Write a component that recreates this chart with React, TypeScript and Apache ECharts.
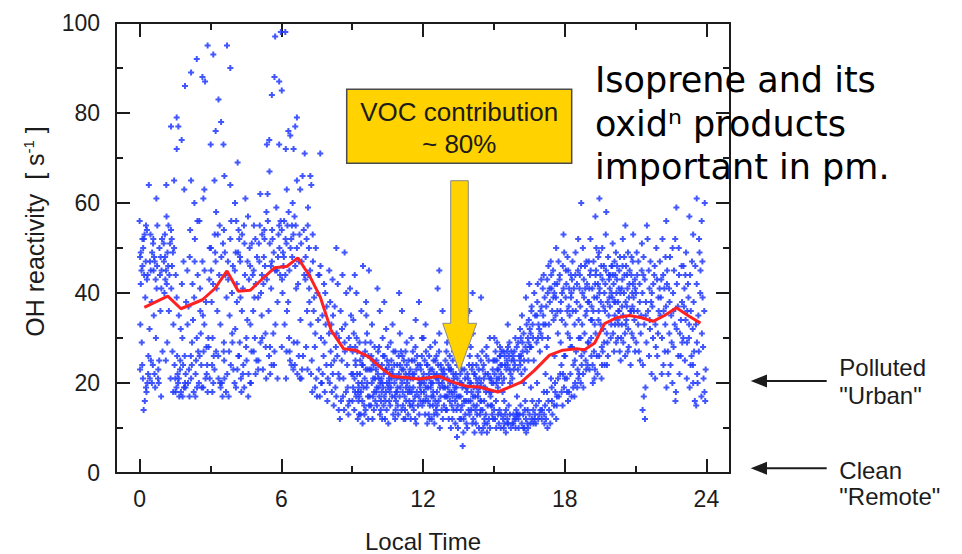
import React, { useEffect, useRef } from "react";
import * as echarts from "echarts";

// ---- axis ticks ----
const xMajor = [0, 6, 12, 18, 24];
const xMinor = [3, 9, 15, 21];

// ---- hourly mean (red line) ----
const meanT = [0.2, 1.19, 1.75, 2.66, 3.19, 3.7, 4.18, 4.68, 5.17, 5.71, 6.23, 6.7, 7.22, 7.65, 8.11, 8.64, 9.13, 9.7, 10.26, 10.69, 11.25, 11.82, 12.69, 13.26, 13.82, 14.39, 15.17, 15.66, 16.16, 16.72, 17.36, 17.92, 18.49, 18.84, 19.27, 19.69, 20.19, 20.75, 21.25, 21.74, 22.23, 22.73, 23.22, 23.75];
const meanV = [36.8, 39.3, 36.5, 38.5, 41, 44.9, 40.4, 40.6, 43, 45.6, 45.9, 47.8, 43.6, 39.1, 31.7, 27.6, 27.3, 25.8, 23.2, 21.5, 21.2, 20.9, 21.5, 20.2, 19.3, 19.1, 18.0, 19.1, 20.2, 22.8, 26.2, 27.3, 27.6, 27.4, 28.9, 33.2, 34.5, 35, 34.5, 33.7, 35, 36.7, 35, 33.3];

// ---- individual measurements [local time, OH reactivity] ----
const h00 = [[0.02,23],[0.05,49],[0.0,56],[0.61,48],[0.34,44],[0.92,41],[0.18,52],[0.75,55],[0.43,21],[0.03,33],[0.56,24],[0.29,18],[0.84,50],[0.12,46],[0.68,43],[0.39,64],[0.97,27],[0.22,16],[0.51,38],[0.81,20],[0.09,29],[0.46,53],[0.71,61],[0.26,47],[0.88,36],[0.14,21],[0.59,45],[0.37,26],[0.95,52],[0.05,42],[0.66,19],[0.31,54],[0.79,23],[0.17,14],[0.53,49],[0.42,32],[0.86,44],[0.24,39],[0.63,22],[0.02,48],[0.48,25],[0.74,46],[0.11,24],[0.57,51],[0.33,20],[0.91,17],[0.19,44],[0.69,30],[0.44,47],[0.83,25],[0.27,55],[0.6,35]];
const h01 = [[1.13,64],[1.46,65],[1.33,77],[1.57,79],[1.64,77],[1.78,74],[1.57,72],[1.89,63],[1.07,53],[1.61,22],[1.34,41],[1.92,20],[1.18,49],[1.75,18],[1.43,33],[1.03,47],[1.56,19],[1.29,51],[1.84,24],[1.12,45],[1.68,17],[1.39,27],[1.97,38],[1.22,55],[1.51,21],[1.81,30],[1.09,43],[1.46,50],[1.71,23],[1.26,44],[1.88,19],[1.14,57],[1.59,26],[1.37,46],[1.95,22],[1.05,40],[1.66,35],[1.31,21],[1.79,42],[1.17,29],[1.53,44],[1.42,18],[1.86,47],[1.24,36],[1.63,20],[1.02,51],[1.48,24],[1.74,32],[1.11,25],[1.57,39],[1.33,54],[1.91,26]];
const h02 = [[1.92,86],[2.18,89],[2.42,92],[2.66,88],[2.77,87],[2.88,95],[2.18,65],[2.32,60],[2.7,61],[2.74,63],[2.07,37],[2.61,24],[2.34,52],[2.92,28],[2.18,21],[2.75,45],[2.43,19],[2.03,33],[2.56,41],[2.29,18],[2.84,22],[2.12,48],[2.68,35],[2.39,25],[2.97,50],[2.22,29],[2.51,20],[2.81,38],[2.09,23],[2.46,44],[2.71,27],[2.26,34],[2.88,18],[2.14,54],[2.59,31],[2.37,22],[2.95,43],[2.05,20],[2.66,47],[2.31,39],[2.79,21],[2.17,26],[2.53,56],[2.42,30],[2.86,24],[2.24,42],[2.63,19],[2.02,45],[2.48,27],[2.74,33],[2.11,17],[2.57,36],[2.33,47],[2.91,30]];
const h03 = [[3.12,93],[3.7,95],[3.84,90],[3.34,83],[3.45,78],[3.22,76],[3.01,73],[3.55,73],[3.17,65],[3.59,66],[3.84,64],[3.07,24],[3.61,49],[3.34,21],[3.92,31],[3.18,53],[3.75,43],[3.43,19],[3.03,45],[3.56,27],[3.29,36],[3.84,52],[3.12,20],[3.68,39],[3.39,55],[3.97,23],[3.22,47],[3.51,17],[3.81,35],[3.09,30],[3.46,48],[3.71,22],[3.26,41],[3.88,56],[3.14,26],[3.59,21],[3.37,44],[3.95,46],[3.05,38],[3.66,18],[3.31,53],[3.79,27],[3.17,23],[3.53,51],[3.42,33],[3.86,24],[3.24,58],[3.63,44],[3.02,50],[3.48,20],[3.74,47],[3.11,42],[3.57,29],[3.33,26],[3.91,40]];
const h04 = [[4.04,60],[4.15,69],[4.07,49],[4.61,22],[4.34,53],[4.92,42],[4.18,26],[4.75,51],[4.43,19],[4.03,45],[4.56,34],[4.29,21],[4.84,55],[4.12,38],[4.68,46],[4.39,24],[4.97,48],[4.22,52],[4.51,28],[4.81,36],[4.09,56],[4.46,44],[4.71,20],[4.26,47],[4.88,30],[4.14,23],[4.59,57],[4.37,41],[4.95,25],[4.05,32],[4.66,50],[4.31,18],[4.79,44],[4.17,49],[4.53,25],[4.42,55],[4.86,39],[4.24,29],[4.63,43],[4.02,20],[4.48,61],[4.74,27],[4.11,42],[4.57,47],[4.33,36],[4.91,22],[4.19,54],[4.69,33],[4.44,51],[4.83,45],[4.27,39],[4.6,17]];
const h05 = [[5.39,73],[5.49,74],[5.5,67],[5.6,84],[5.71,88],[5.74,97],[5.91,87],[5.91,73],[5.98,98],[5.07,47],[5.61,54],[5.34,28],[5.92,50],[5.18,44],[5.75,33],[5.43,56],[5.03,25],[5.56,46],[5.29,52],[5.84,38],[5.12,29],[5.68,49],[5.39,43],[5.97,56],[5.22,23],[5.51,51],[5.81,45],[5.09,55],[5.46,36],[5.71,27],[5.26,48],[5.88,53],[5.14,40],[5.59,24],[5.37,58],[5.95,44],[5.05,51],[5.66,31],[5.31,46],[5.79,59],[5.17,35],[5.53,22],[5.42,62],[5.86,48],[5.24,42],[5.63,52],[5.02,39],[5.48,26],[5.74,45],[5.11,62],[5.57,41],[5.33,31],[5.91,55],[5.19,53]];
const h06 = [[6.17,98],[6.02,85],[6.3,76],[6.66,79],[6.59,77],[6.38,75],[6.19,72],[6.52,72],[6.99,71],[6.23,63],[6.66,65],[6.8,63],[6.9,66],[6.07,49],[6.61,55],[6.34,45],[6.92,26],[6.18,52],[6.75,47],[6.43,24],[6.03,43],[6.56,57],[6.29,38],[6.84,51],[6.12,56],[6.68,22],[6.39,50],[6.97,44],[6.22,27],[6.51,53],[6.81,34],[6.09,46],[6.46,48],[6.71,42],[6.26,55],[6.88,23],[6.14,33],[6.59,46],[6.37,25],[6.95,54],[6.05,40],[6.66,50],[6.31,58],[6.79,21],[6.17,44],[6.53,29],[6.42,52],[6.86,47],[6.24,36],[6.63,41],[6.02,54],[6.48,60],[6.74,26],[6.11,48],[6.57,24],[6.33,30]];
const h07 = [[7.65,71],[7.23,66],[7.27,64],[7.13,59],[7.07,52],[7.61,44],[7.34,47],[7.92,37],[7.18,41],[7.75,22],[7.43,19],[7.03,48],[7.56,34],[7.29,25],[7.84,18],[7.12,55],[7.68,30],[7.39,39],[7.97,21],[7.22,45],[7.51,17],[7.81,42],[7.09,36],[7.46,50],[7.71,20],[7.26,22],[7.88,33],[7.14,44],[7.59,23],[7.37,36],[7.95,16],[7.05,28],[7.66,46],[7.31,18],[7.79,26],[7.17,50],[7.53,40],[7.42,28],[7.86,40],[7.24,33],[7.63,17],[7.02,43],[7.48,21],[7.74,35],[7.11,23],[7.57,44],[7.33,53],[7.91,24],[7.19,38],[7.69,20],[7.44,31],[7.83,29]];
const h08 = [[8.33,50],[8.68,49],[8.07,38],[8.61,17],[8.34,31],[8.92,28],[8.18,22],[8.75,40],[8.43,14],[8.03,45],[8.56,25],[8.29,19],[8.84,13],[8.12,33],[8.68,29],[8.39,42],[8.97,22],[8.22,15],[8.51,36],[8.81,19],[8.09,27],[8.46,21],[8.71,33],[8.26,37],[8.88,16],[8.14,18],[8.59,44],[8.37,26],[8.95,35],[8.05,20],[8.66,14],[8.31,28],[8.79,24],[8.17,43],[8.53,16],[8.42,22],[8.86,30],[8.24,25],[8.63,21],[8.02,31],[8.48,12],[8.74,18],[8.11,24],[8.57,32],[8.33,17],[8.91,41],[8.19,35],[8.69,27],[8.44,30],[8.83,15]];
const h09 = [[9.07,31],[9.61,19],[9.34,25],[9.92,14],[9.18,40],[9.75,23],[9.43,16],[9.03,22],[9.56,29],[9.29,13],[9.84,33],[9.12,18],[9.68,12],[9.39,36],[9.97,21],[9.22,27],[9.51,15],[9.81,26],[9.09,14],[9.46,46],[9.71,45],[9.26,20],[9.88,17],[9.14,25],[9.59,38],[9.37,18],[9.95,28],[9.05,34],[9.66,23],[9.31,29],[9.79,15],[9.17,17],[9.53,21],[9.42,24],[9.86,12],[9.24,12],[9.63,31],[9.02,27],[9.48,19],[9.74,17],[9.11,44],[9.57,14],[9.33,22],[9.91,24],[9.19,30],[9.69,26],[9.44,11],[9.83,20],[9.27,16],[9.6,35]];
const h10 = [[10.07,41],[10.61,15],[10.34,22],[10.92,19],[10.18,13],[10.75,27],[10.43,18],[10.03,25],[10.56,21],[10.29,30],[10.84,14],[10.12,19],[10.68,23],[10.39,12],[10.97,26],[10.22,16],[10.51,28],[10.81,17],[10.09,22],[10.46,14],[10.71,33],[10.26,24],[10.88,21],[10.14,28],[10.59,18],[10.37,26],[10.95,13],[10.05,15],[10.66,25],[10.31,19],[10.79,20],[10.17,36],[10.53,11],[10.42,23],[10.86,16],[10.24,21],[10.63,29],[10.02,18],[10.48,25],[10.74,13],[10.11,24],[10.57,16],[10.33,15],[10.91,24],[10.19,20],[10.69,17],[10.44,32],[10.83,27],[10.27,12],[10.6,22],[10.99,40],[10.36,38]];
const h11 = [[11.07,27],[11.61,14],[11.34,21],[11.92,18],[11.18,12],[11.75,26],[11.43,19],[11.03,24],[11.56,22],[11.29,16],[11.84,13],[11.12,20],[11.68,28],[11.39,25],[11.97,15],[11.22,17],[11.51,30],[11.81,21],[11.09,14],[11.46,23],[11.71,11],[11.26,27],[11.88,24],[11.14,18],[11.59,19],[11.37,13],[11.95,26],[11.05,21],[11.66,17],[11.31,29],[11.79,15],[11.17,23],[11.53,25],[11.42,16],[11.86,20],[11.24,14],[11.63,22],[11.02,31],[11.48,12],[11.74,18],[11.11,36],[11.57,27],[11.33,20],[11.91,23],[11.19,25],[11.69,34],[11.44,18],[11.83,38],[11.27,22],[11.6,16],[11.96,30]];
const h12 = [[12.69,45],[12.62,41],[12.07,25],[12.61,13],[12.34,20],[12.92,17],[12.18,11],[12.75,24],[12.43,18],[12.03,22],[12.56,21],[12.29,15],[12.84,12],[12.12,19],[12.68,27],[12.39,23],[12.97,14],[12.22,16],[12.51,29],[12.81,20],[12.09,13],[12.46,22],[12.71,10],[12.26,26],[12.88,23],[12.14,17],[12.59,18],[12.37,12],[12.95,25],[12.05,20],[12.66,16],[12.31,28],[12.79,14],[12.17,24],[12.53,25],[12.42,15],[12.86,19],[12.24,13],[12.63,21],[12.02,30],[12.48,11],[12.74,17],[12.11,33],[12.57,26],[12.33,19],[12.91,22],[12.19,24],[12.69,31],[12.44,17],[12.83,36],[12.27,21],[12.6,15],[12.99,27]];
const h13 = [[13.07,24],[13.61,12],[13.34,19],[13.92,16],[13.18,10],[13.75,23],[13.43,17],[13.03,21],[13.56,20],[13.29,14],[13.84,11],[13.12,18],[13.68,6],[13.39,22],[13.97,13],[13.22,15],[13.51,28],[13.81,19],[13.09,12],[13.46,21],[13.71,9],[13.26,25],[13.88,22],[13.14,16],[13.59,17],[13.37,11],[13.95,24],[13.05,19],[13.66,15],[13.31,27],[13.79,13],[13.17,23],[13.53,24],[13.42,14],[13.86,18],[13.24,12],[13.63,20],[13.02,29],[13.48,10],[13.74,16],[13.11,32],[13.57,25],[13.33,18],[13.91,21],[13.19,23],[13.69,29],[13.44,8],[13.83,35],[13.27,20],[13.6,14],[13.98,26],[13.36,36]];
const h14 = [[14.1,40],[14.46,39],[13.96,36],[14.07,23],[14.61,11],[14.34,18],[14.92,15],[14.18,9],[14.75,22],[14.43,16],[14.03,20],[14.56,19],[14.29,13],[14.84,10],[14.12,17],[14.68,26],[14.39,21],[14.97,12],[14.22,14],[14.51,27],[14.81,18],[14.09,11],[14.46,20],[14.71,9],[14.26,24],[14.88,21],[14.14,15],[14.59,16],[14.37,10],[14.95,23],[14.05,18],[14.66,13],[14.31,26],[14.79,12],[14.17,22],[14.53,23],[14.42,13],[14.86,17],[14.24,11],[14.63,19],[14.02,28],[14.48,9],[14.74,15],[14.11,31],[14.57,24],[14.33,17],[14.91,20],[14.19,22],[14.69,28],[14.44,14],[14.83,30],[14.27,19],[14.6,12],[14.98,25]];
const h15 = [[15.59,33],[15.07,27],[15.61,11],[15.34,24],[15.92,10],[15.18,13],[15.75,25],[15.43,21],[15.03,22],[15.56,27],[15.29,10],[15.84,23],[15.12,25],[15.68,13],[15.39,12],[15.97,28],[15.22,21],[15.51,9],[15.81,26],[15.09,16],[15.46,26],[15.71,22],[15.26,28],[15.88,12],[15.14,29],[15.59,24],[15.37,18],[15.95,14],[15.05,12],[15.66,29],[15.31,22],[15.79,11],[15.17,19],[15.53,23],[15.42,10],[15.86,25],[15.24,14],[15.63,15],[15.02,30],[15.48,13],[15.74,27],[15.11,20],[15.57,12],[15.33,27],[15.91,30],[15.19,23],[15.69,20],[15.44,16],[15.83,13],[15.27,26],[15.6,28],[15.98,17]];
const h16 = [[16.36,39],[16.5,42],[16.07,26],[16.61,12],[16.34,28],[16.92,32],[16.18,11],[16.75,35],[16.43,14],[16.03,29],[16.56,31],[16.29,10],[16.84,38],[16.12,24],[16.68,11],[16.39,33],[16.97,14],[16.22,27],[16.51,13],[16.81,29],[16.09,13],[16.46,25],[16.71,40],[16.26,31],[16.88,12],[16.14,30],[16.59,36],[16.37,9],[16.95,27],[16.05,10],[16.66,30],[16.31,23],[16.79,15],[16.17,22],[16.53,28],[16.42,11],[16.86,42],[16.24,13],[16.63,16],[16.02,23],[16.48,34],[16.74,13],[16.11,32],[16.57,19],[16.33,16],[16.91,16],[16.19,35],[16.69,25],[16.44,30],[16.83,20],[16.27,20],[16.6,37],[16.98,31]];
const h17 = [[17.64,50],[17.95,53],[17.07,41],[17.61,35],[17.34,14],[17.92,46],[17.18,33],[17.75,17],[17.43,44],[17.03,12],[17.56,40],[17.29,30],[17.84,38],[17.12,18],[17.68,42],[17.39,11],[17.97,19],[17.22,37],[17.51,45],[17.81,22],[17.09,35],[17.46,16],[17.71,31],[17.26,43],[17.88,34],[17.14,11],[17.59,20],[17.37,38],[17.95,41],[17.05,30],[17.66,15],[17.31,46],[17.79,44],[17.17,15],[17.53,34],[17.42,21],[17.86,24],[17.24,28],[17.63,39],[17.02,37],[17.48,13],[17.74,47],[17.11,44],[17.57,26],[17.33,33],[17.91,15],[17.19,22],[17.69,36],[17.44,41],[17.83,29],[17.27,10],[17.6,18],[17.98,49]];
const h18 = [[18.7,60],[18.77,50],[18.07,42],[18.61,22],[18.34,36],[18.92,47],[18.18,18],[18.75,40],[18.43,25],[18.03,33],[18.56,45],[18.29,17],[18.84,31],[18.12,48],[18.68,20],[18.39,41],[18.97,24],[18.22,30],[18.51,38],[18.81,43],[18.09,21],[18.46,49],[18.71,26],[18.26,44],[18.88,35],[18.14,16],[18.59,34],[18.37,24],[18.95,42],[18.05,45],[18.66,37],[18.31,28],[18.79,19],[18.17,37],[18.53,19],[18.42,33],[18.86,46],[18.24,22],[18.63,41],[18.02,26],[18.48,27],[18.74,33],[18.11,36],[18.57,52],[18.33,47],[18.91,23],[18.19,41],[18.69,46],[18.44,20],[18.83,27],[18.27,39],[18.6,30],[18.98,38]];
const h19 = [[19.47,61],[19.3,57],[19.76,58],[19.07,44],[19.61,27],[19.34,50],[19.92,37],[19.18,24],[19.75,45],[19.43,34],[19.03,38],[19.56,21],[19.29,42],[19.84,48],[19.12,30],[19.68,40],[19.39,22],[19.97,33],[19.22,47],[19.51,44],[19.81,29],[19.09,52],[19.46,26],[19.71,36],[19.26,21],[19.88,43],[19.14,37],[19.59,50],[19.37,39],[19.95,30],[19.05,23],[19.66,46],[19.31,31],[19.79,24],[19.17,41],[19.53,38],[19.42,48],[19.86,35],[19.24,27],[19.63,32],[19.02,47],[19.48,41],[19.74,53],[19.11,34],[19.57,28],[19.33,45],[19.91,41],[19.19,20],[19.69,24],[19.44,36],[19.83,26],[19.27,33],[19.6,43],[19.98,46]];
const h20 = [[20.9,53],[20.07,42],[20.61,34],[20.34,48],[20.92,39],[20.18,29],[20.75,45],[20.43,37],[20.03,51],[20.56,26],[20.29,41],[20.84,31],[20.12,35],[20.68,49],[20.39,30],[20.97,43],[20.22,46],[20.51,40],[20.81,36],[20.09,27],[20.46,52],[20.71,28],[20.26,38],[20.88,47],[20.14,44],[20.59,33],[20.37,25],[20.95,34],[20.05,31],[20.66,41],[20.31,45],[20.79,24],[20.17,49],[20.53,44],[20.42,33],[20.86,40],[20.24,34],[20.63,37],[20.02,39],[20.48,29],[20.74,42],[20.11,47],[20.57,55],[20.33,27],[20.91,30],[20.19,40],[20.69,32],[20.44,43],[20.83,48],[20.27,36],[20.6,46],[20.98,27]];
const h21 = [[21.3,14],[21.4,12],[21.35,17],[21.07,44],[21.61,32],[21.34,48],[21.92,26],[21.18,38],[21.75,42],[21.43,35],[21.03,29],[21.56,45],[21.29,40],[21.84,33],[21.12,47],[21.68,22],[21.39,43],[21.97,39],[21.22,31],[21.51,52],[21.81,46],[21.09,36],[21.46,29],[21.71,37],[21.26,45],[21.88,50],[21.14,27],[21.59,41],[21.37,33],[21.95,31],[21.05,49],[21.66,38],[21.31,24],[21.79,44],[21.17,42],[21.53,36],[21.42,19],[21.86,28],[21.24,35],[21.63,47],[21.02,40],[21.48,55],[21.74,30],[21.11,33],[21.57,26],[21.33,44],[21.91,43],[21.19,25],[21.69,40],[21.44,38],[21.83,21],[21.27,51],[21.6,34],[21.98,36]];
const h22 = [[22.3,56],[22.73,59],[22.07,39],[22.61,28],[22.34,45],[22.92,34],[22.18,24],[22.75,42],[22.43,31],[22.03,47],[22.56,20],[22.29,37],[22.84,44],[22.12,30],[22.68,52],[22.39,22],[22.97,38],[22.22,41],[22.51,35],[22.81,26],[22.09,43],[22.46,48],[22.71,18],[22.26,33],[22.88,31],[22.14,52],[22.59,40],[22.37,27],[22.95,46],[22.05,35],[22.66,33],[22.31,19],[22.79,37],[22.17,44],[22.53,29],[22.42,41],[22.86,22],[22.24,27],[22.63,45],[22.02,41],[22.48,24],[22.74,32],[22.11,22],[22.57,50],[22.33,42],[22.91,26],[22.19,36],[22.69,16],[22.44,38],[22.83,50],[22.27,48],[22.6,36],[22.98,29]];
const h23 = [[23.28,57],[23.59,61],[23.8,56],[23.93,60],[23.44,53],[23.07,41],[23.61,22],[23.34,36],[23.92,18],[23.18,29],[23.75,45],[23.43,24],[23.03,46],[23.56,33],[23.29,19],[23.84,39],[23.12,34],[23.68,27],[23.39,47],[23.97,23],[23.22,42],[23.51,16],[23.81,31],[23.09,25],[23.46,38],[23.71,49],[23.26,30],[23.88,21],[23.14,49],[23.59,42],[23.37,26],[23.95,16],[23.05,37],[23.66,35],[23.31,44],[23.79,17],[23.17,21],[23.53,46],[23.42,32],[23.86,28],[23.24,39],[23.63,20],[23.02,30],[23.48,27],[23.74,40],[23.11,44],[23.57,15],[23.33,24],[23.91,36],[23.19,36],[23.69,52],[23.44,20],[23.83,47],[23.27,33],[23.6,29]];

// denser clusters
const d01 = [[0.08,45],[0.58,52],[0.31,43],[0.89,48],[0.15,50],[0.72,41],[0.47,45],[0.21,53],[0.64,47],[0.36,22],[0.93,45],[0.52,20],[1.08,48],[1.21,46],[1.36,52],[1.52,18],[1.66,21],[1.82,17],[1.15,42],[1.41,49],[1.94,19],[1.72,25],[0.27,19],[0.78,21],[0.12,52]];
const d26 = [[2.21,24],[2.36,17],[2.54,26],[2.69,19],[2.83,28],[2.97,21],[3.08,18],[3.24,27],[3.41,20],[3.58,25],[3.77,17],[3.93,29],[4.08,19],[4.21,26],[4.37,22],[4.52,30],[4.69,20],[4.83,27],[5.02,23],[5.19,30],[5.36,21],[5.52,28],[5.69,24],[5.84,21],[6.02,28],[6.2,21],[6.35,27],[6.51,23],[6.68,29],[6.85,21],[2.45,56],[3.57,54],[4.25,48],[5.28,54],[6.22,51],[6.77,53],[3.2,49],[4.9,52],[5.6,47],[6.45,55]];
const d09 = [[9.04,19],[9.58,23],[9.31,17],[9.89,21],[9.15,24],[9.72,15],[9.47,26],[9.01,16],[9.64,20],[9.36,13],[9.93,18],[9.21,22],[9.55,27],[9.28,19],[9.82,23],[9.1,21],[9.67,17],[9.41,20],[9.98,16],[9.25,18],[9.52,13],[9.78,29],[9.13,28],[9.45,24],[9.87,25]];
const d10 = [[10.04,19],[10.58,20],[10.31,26],[10.89,18],[10.15,17],[10.72,22],[10.47,20],[10.01,23],[10.64,19],[10.36,17],[10.93,15],[10.21,14],[10.55,24],[10.28,20],[10.82,12],[10.1,27],[10.67,21],[10.41,16],[10.98,22],[10.25,18],[10.52,19],[10.78,24],[10.13,21],[10.45,23],[10.87,18]];
const d11 = [[11.04,19],[11.58,21],[11.31,24],[11.89,16],[11.15,15],[11.72,23],[11.47,21],[11.01,17],[11.64,25],[11.36,18],[11.93,20],[11.21,21],[11.55,15],[11.28,19],[11.82,17],[11.1,23],[11.67,12],[11.41,22],[11.98,21],[11.25,12],[11.52,18],[11.78,24],[11.13,26],[11.45,15],[11.87,19]];
const d12 = [[12.04,18],[12.58,22],[12.31,23],[12.89,15],[12.15,21],[12.72,19],[12.47,13],[12.01,16],[12.64,24],[12.36,17],[12.93,19],[12.21,19],[12.55,14],[12.28,12],[12.82,22],[12.1,16],[12.67,20],[12.41,20],[12.98,17],[12.25,22],[12.52,16],[12.78,23],[12.13,27],[12.45,25],[12.87,21]];
const d13 = [[13.04,17],[13.58,22],[13.31,21],[13.89,19],[13.15,20],[13.72,12],[13.47,15],[13.01,14],[13.64,23],[13.36,16],[13.93,14],[13.21,18],[13.55,12],[13.28,22],[13.82,16],[13.1,23],[13.67,19],[13.41,19],[13.98,20],[13.25,17],[13.52,17],[13.78,21],[13.13,26],[13.45,24],[13.87,10]];
const d14 = [[14.04,14],[14.58,21],[14.31,20],[14.89,18],[14.15,19],[14.72,11],[14.47,16],[14.01,16],[14.64,22],[14.36,23],[14.93,13],[14.21,17],[14.55,10],[14.28,15],[14.82,21],[14.1,24],[14.67,18],[14.41,19],[14.98,20],[14.25,21],[14.52,14],[14.78,25],[14.13,12],[14.45,25],[14.87,15]];
const d15 = [[15.04,25],[15.58,11],[15.31,13],[15.89,24],[15.15,23],[15.72,10],[15.47,24],[15.01,14],[15.64,26],[15.36,20],[15.93,12],[15.21,11],[15.55,25],[15.28,24],[15.82,11],[15.1,10],[15.67,23],[15.41,27],[15.98,13],[15.25,26],[15.52,14],[15.78,21],[15.13,21],[15.45,11],[15.87,27]];
const d16 = [[16.04,12],[16.58,28],[16.31,14],[16.89,33],[16.15,26],[16.72,12],[16.47,29],[16.01,13],[16.64,33],[16.36,12],[16.93,13],[16.21,29],[16.55,11],[16.28,25],[16.82,35],[16.1,25],[16.67,14],[16.41,27],[16.98,36],[16.25,10],[16.52,32],[16.78,11],[16.13,15],[16.45,10],[16.87,30]];
const d17 = [[17.04,14],[17.58,42],[17.31,16],[17.89,40],[17.15,39],[17.72,21],[17.47,36],[17.01,43],[17.64,12],[17.36,41],[17.93,22],[17.21,12],[17.55,15],[17.28,40],[17.82,36],[17.1,33],[17.67,17],[17.41,47],[17.98,26],[17.25,18],[17.52,39],[17.78,43],[17.13,13],[17.45,19],[17.87,18]];
const d18 = [[18.04,39],[18.58,21],[18.31,43],[18.89,25],[18.15,45],[18.72,24],[18.47,36],[18.01,21],[18.64,44],[18.36,19],[18.93,36],[18.21,35],[18.55,23],[18.28,40],[18.82,39],[18.1,18],[18.67,30],[18.41,17],[18.98,29],[18.25,28],[18.52,42],[18.78,22],[18.13,31],[18.45,44],[18.87,41]];
const d19 = [[19.04,41],[19.58,24],[19.31,44],[19.89,39],[19.15,34],[19.72,42],[19.47,40],[19.01,29],[19.64,37],[19.36,26],[19.93,44],[19.21,36],[19.55,46],[19.28,23],[19.82,38],[19.1,45],[19.67,29],[19.41,42],[19.98,40],[19.25,39],[19.52,33],[19.78,31],[19.13,26],[19.45,49],[19.87,44]];
const d20 = [[20.04,44],[20.58,38],[20.31,36],[20.89,42],[20.15,38],[20.72,39],[20.47,35],[20.01,46],[20.64,44],[20.36,40],[20.93,36],[20.21,43],[20.55,31],[20.28,33],[20.82,44],[20.1,38],[20.67,27],[20.41,41],[20.98,41],[20.25,30],[20.52,48],[20.78,36],[20.13,33],[20.45,46],[20.87,37]];

const groups = [h00, h01, h02, h03, h04, h05, h06, h07, h08, h09, h10, h11, h12, h13, h14, h15, h16, h17, h18, h19, h20, h21, h22, h23, d01, d26, d09, d10, d11, d12, d13, d14, d15, d16, d17, d18, d19, d20];

const FONT = "'Liberation Sans', Arial, Helvetica, sans-serif";
const INK = "#1c1c1c";
const YELLOW = "#FFD200";
const PLUS = "path://M1,0h1v1h1v1h-1v1h-1v-1h-1v-1h1z";

function buildOption() {
  const scatterData: number[][] = [];
  groups.forEach((g) => g.forEach((p) => scatterData.push(p)));
  const meanData = meanT.map((t, i) => [t, meanV[i]]);

  const tickStyle = { color: INK, width: 2 };
  const xBase = { type: "value", min: -1, max: 25, splitLine: { show: false } };
  const yBase = { type: "value", min: 0, max: 100, interval: 20, splitLine: { show: false } };

  const txt = (x: number, y: number, text: string, font: string, align = "left", fill = INK) => ({
    type: "text",
    x,
    y,
    z: 11,
    style: { text, fill, font, align, verticalAlign: "middle" },
  });

  return {
    animation: false,
    backgroundColor: "#ffffff",
    grid: { left: 116, top: 23, right: 232, bottom: 81, containLabel: false, outerBoundsMode: "none" },
    xAxis: [
      {
        ...xBase,
        position: "bottom",
        name: "Local Time",
        nameLocation: "middle",
        nameGap: 56,
        nameTextStyle: { fontSize: 24, color: INK, fontFamily: FONT },
        axisLine: { show: true, onZero: false, lineStyle: tickStyle },
        axisTick: { show: true, inside: true, length: 14, customValues: xMajor, lineStyle: tickStyle },
        axisLabel: { show: true, customValues: xMajor, fontSize: 23, color: INK, fontFamily: FONT, margin: 14 },
      },
      {
        ...xBase,
        position: "bottom",
        axisLine: { show: false, onZero: false },
        axisTick: { show: true, inside: true, length: 7, customValues: xMinor, lineStyle: tickStyle },
        axisLabel: { show: false },
      },
      {
        ...xBase,
        position: "top",
        axisLine: { show: true, onZero: false, lineStyle: tickStyle },
        axisTick: { show: true, inside: true, length: 14, customValues: xMajor, lineStyle: tickStyle },
        axisLabel: { show: false },
      },
      {
        ...xBase,
        position: "top",
        axisLine: { show: false, onZero: false },
        axisTick: { show: true, inside: true, length: 7, customValues: xMinor, lineStyle: tickStyle },
        axisLabel: { show: false },
      },
    ],
    yAxis: [
      {
        ...yBase,
        position: "left",
        name: "{a|OH reactivity  [ s}{b|-1}{a| ]}",
        nameLocation: "middle",
        nameRotate: 90,
        nameGap: 68,
        nameTextStyle: {
          fontSize: 25,
          color: INK,
          fontFamily: FONT,
          padding: [0, 0, 0, 33],
          rich: {
            a: { fontSize: 25, color: INK, fontFamily: FONT, lineHeight: 27 },
            b: { fontSize: 15, color: INK, fontFamily: FONT, verticalAlign: "top", lineHeight: 27 },
          },
        },
        axisLine: { show: true, onZero: false, lineStyle: tickStyle },
        axisTick: { show: true, inside: true, length: 14, lineStyle: tickStyle },
        minorTick: { show: true, splitNumber: 2, length: 7, lineStyle: tickStyle },
        axisLabel: { show: true, fontSize: 23, color: INK, fontFamily: FONT, margin: 16 },
      },
      {
        ...yBase,
        position: "right",
        axisLine: { show: true, onZero: false, lineStyle: tickStyle },
        axisTick: { show: true, inside: true, length: 14, lineStyle: tickStyle },
        minorTick: { show: true, splitNumber: 2, length: 7, lineStyle: tickStyle },
        axisLabel: { show: false },
      },
    ],
    series: [
      {
        type: "scatter",
        xAxisIndex: 0,
        yAxisIndex: 0,
        data: scatterData,
        symbol: PLUS,
        symbolSize: 6,
        itemStyle: { color: "#2038ff", opacity: 0.85 },
        z: 2,
      },
      {
        type: "line",
        xAxisIndex: 0,
        yAxisIndex: 0,
        data: meanData,
        symbol: "none",
        lineStyle: { color: "#ff2222", width: 3 },
        z: 3,
      },
    ],
    graphic: [
      {
        type: "rect",
        shape: { x: 346.7, y: 89.3, width: 225, height: 74 },
        style: { fill: YELLOW, stroke: "#4a4a4a", lineWidth: 1.5 },
        z: 10,
      },
      txt(459.2, 111.7, "VOC contribution", `26px ${FONT}`, "center"),
      txt(459.2, 144, "~ 80%", `26px ${FONT}`, "center"),
      {
        type: "polygon",
        shape: {
          points: [
            [450.7, 180.7],
            [468.3, 180.7],
            [468.3, 323.3],
            [476.7, 323.3],
            [459.3, 371.7],
            [442.7, 323.3],
            [450.7, 323.3],
          ],
        },
        style: { fill: YELLOW, stroke: "#8a8a8a", lineWidth: 1 },
        z: 10,
      },
      txt(595, 80, "Isoprene and its", "35px 'DejaVu Sans', sans-serif", "left", "#000"),
      txt(595, 123.5, "oxid\u207F products", "35px 'DejaVu Sans', sans-serif", "left", "#000"),
      txt(595, 167, "important in pm.", "35px 'DejaVu Sans', sans-serif", "left", "#000"),
      { type: "line", shape: { x1: 826.7, y1: 381, x2: 764, y2: 381 }, style: { stroke: INK, lineWidth: 2 }, z: 10 },
      { type: "polygon", shape: { points: [[750.7, 381], [767, 374.5], [767, 387.5]] }, style: { fill: INK }, z: 10 },
      { type: "line", shape: { x1: 826.7, y1: 468.3, x2: 764, y2: 468.3 }, style: { stroke: INK, lineWidth: 2 }, z: 10 },
      { type: "polygon", shape: { points: [[750.7, 468.3], [767, 461.8], [767, 474.8]] }, style: { fill: INK }, z: 10 },
      txt(839.3, 367.7, "Polluted", `24px ${FONT}`),
      txt(839.3, 395, "\"Urban\"", `24px ${FONT}`),
      txt(839.3, 470, "Clean", `24px ${FONT}`),
      txt(839.3, 496.7, "\"Remote\"", `24px ${FONT}`),
    ],
  };
}

export default function App() {
  const ref = useRef<HTMLDivElement>(null);
  useEffect(() => {
    if (!ref.current) return;
    const chart = echarts.init(ref.current, null, { renderer: "svg" });
    chart.setOption(buildOption() as any);
    return () => {
      chart.dispose();
    };
  }, []);
  return (
    <div
      ref={ref}
      style={{ position: "fixed", left: 0, top: 0, width: 962, height: 554, background: "#ffffff" }}
    />
  );
}
